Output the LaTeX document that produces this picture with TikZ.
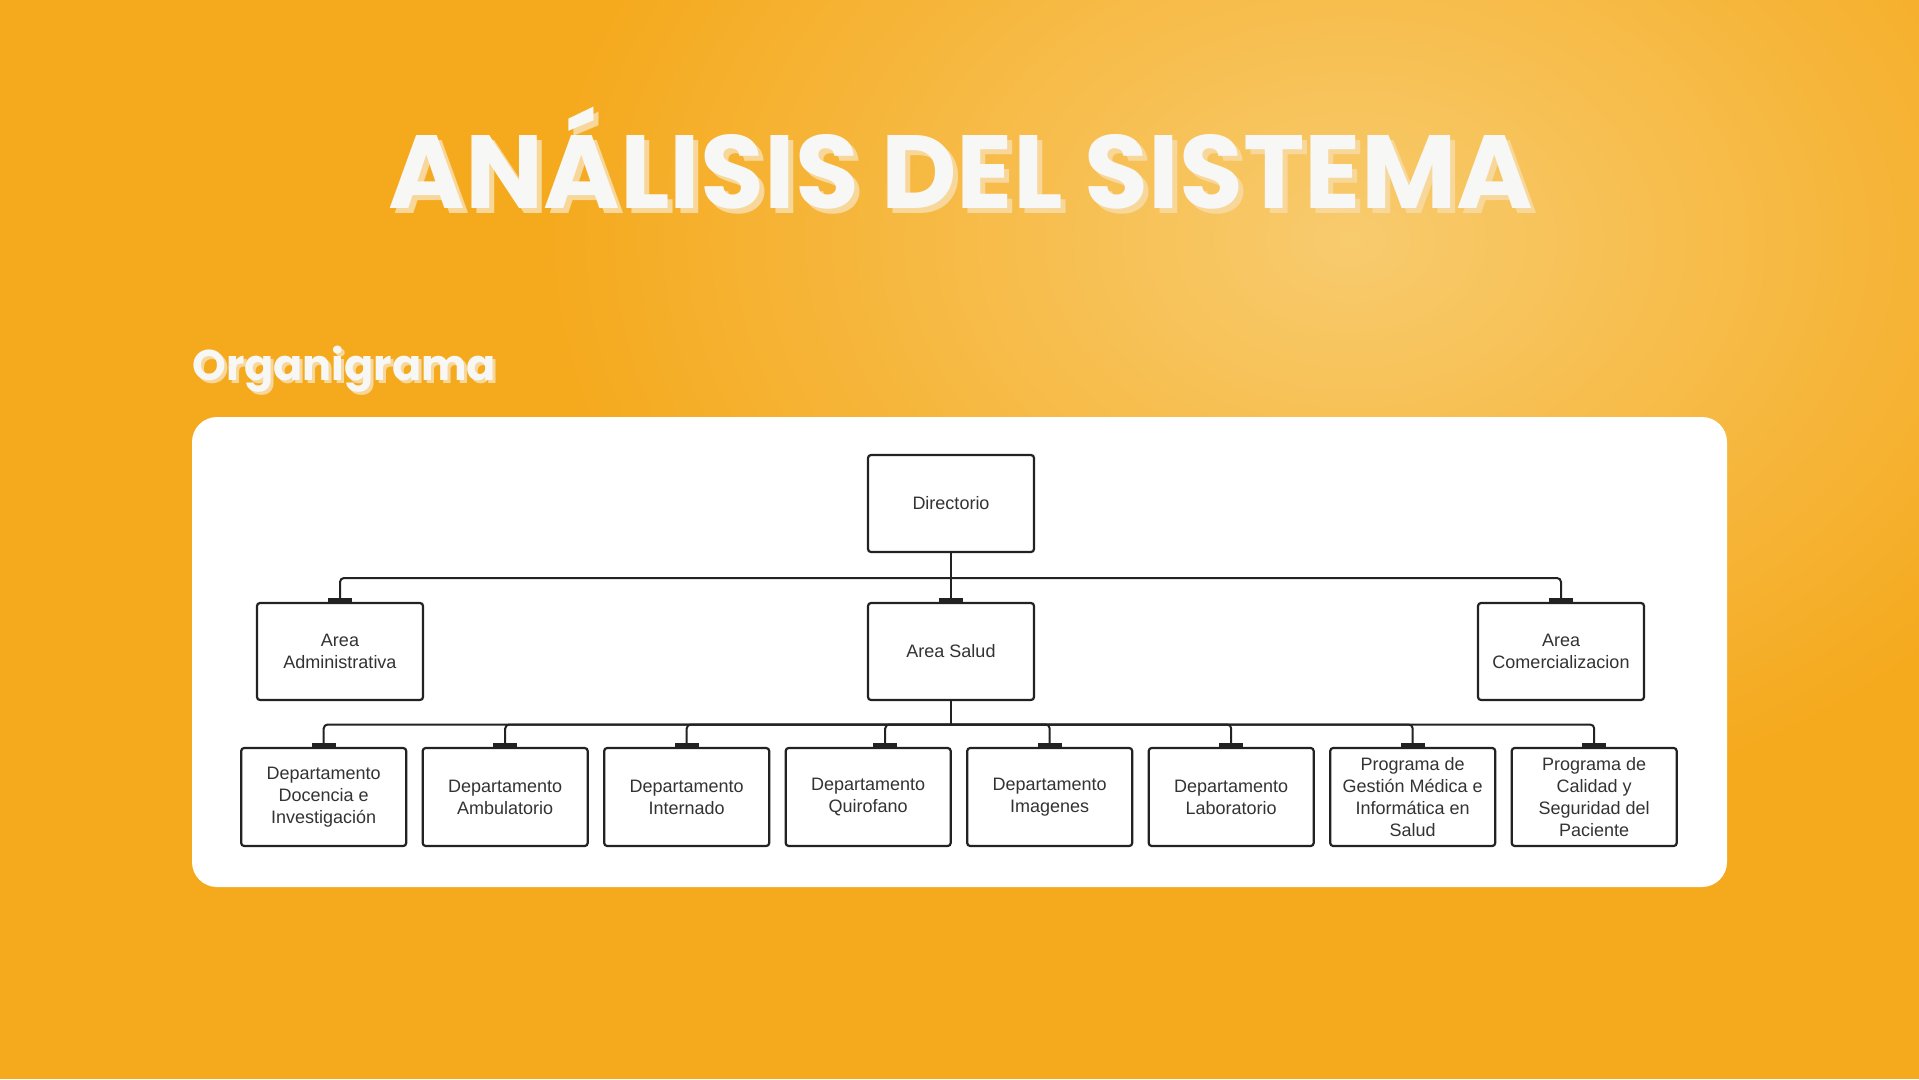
\documentclass[tikz,border=0pt]{standalone}
\usepackage{fontspec}
\setmainfont{Liberation Sans}
\newfontfamily\popfont{Poppins}
\usetikzlibrary{arrows.meta}
\definecolor{bgorange}{HTML}{F5A91C}
\definecolor{glow}{HTML}{F8CB6E}
\definecolor{titlewhite}{HTML}{F7F7F5}
\definecolor{shadowc}{HTML}{F8D79A}
\definecolor{linec}{HTML}{222222}
\definecolor{textc}{HTML}{333333}
\newcommand{\shadowtext}[3]{\rlap{\raisebox{-#1}{\kern#1\textcolor{shadowc}{#2}}}\textcolor{titlewhite}{#3}}
\begin{document}
\begin{tikzpicture}[x=1pt,y=-1pt,
  box/.style={draw=linec, line width=2.2pt, rounded corners=3pt, fill=white,
    minimum width=166pt, minimum height=97pt, align=center, text=textc,
    font=\fontsize{18}{22}\selectfont, inner sep=2pt},
  lowbox/.style={box, minimum width=165pt, minimum height=98pt},
  conn/.style={draw=linec, line width=2pt, rounded corners=4pt},
  tee/.style={conn, -{Rectangle[length=3.5pt,width=24pt]}},
  titlefnt/.style={font=\popfont\bfseries\fontsize{104}{104}\selectfont},
  subfnt/.style={font=\popfont\bfseries\fontsize{43}{43}\selectfont}
]
\useasboundingbox (0,0) rectangle (1919,1079);
\fill[bgorange] (0,0) rectangle (1919,1079);
\shade[inner color=glow, outer color=bgorange] (1350,240) ellipse (820 and 600);

% titles
\node[titlefnt, anchor=base, inner sep=0pt] (title) at (961,208) {\shadowtext{5pt}{ANÁLISIS DEL SISTEMA}{ANÁLISIS DEL SISTEMA}};
\node[subfnt, anchor=base west, inner sep=0pt] (sub) at (192,380) {\shadowtext{3pt}{Organigrama}{Organigrama}};

% panel
\fill[white, rounded corners=25pt] (192,417) rectangle (1727,887);

% boxes
\node[box] (dir) at (951,503.5) {Directorio};
\node[box] (adm) at (340,651.5) {Area\\Administrativa};
\node[box] (sal) at (951,651.5) {Area Salud};
\node[box] (com) at (1561,651.5) {Area\\Comercializacion};

\node[lowbox] (d1) at (323.7,797) {Departamento\\Docencia e\\Investigación};
\node[lowbox] (d2) at (505.2,797) {Departamento\\Ambulatorio};
\node[lowbox] (d3) at (686.7,797) {Departamento\\Internado};
\node[lowbox] (d4) at (868.2,797) {Departamento\\Quirofano};
\node[lowbox] (d5) at (1049.7,797) {Departamento\\Imagenes};
\node[lowbox] (d6) at (1231.2,797) {Departamento\\Laboratorio};
\node[lowbox] (d7) at (1412.7,797) {Programa de\\Gestión Médica e\\Informática en\\Salud};
\node[lowbox] (d8) at (1594.2,797) {Programa de\\Calidad y\\Seguridad del\\Paciente};

% connectors
\coordinate (b1) at (951,578);
\coordinate (b2) at (951,724.5);
\draw[conn] (dir.south) -- (b1);
\draw[tee] (b1) -| (adm.north);
\draw[tee] (b1) -- (sal.north);
\draw[tee] (b1) -| (com.north);

\draw[conn] (sal.south) -- (b2);
\foreach \n in {d1,d2,d3,d5,d6,d7,d8}{
  \draw[tee] (b2) -| (\n.north);
}
\draw[tee] (b2) -| ([xshift=17pt]d4.north);
\end{tikzpicture}
\end{document}
